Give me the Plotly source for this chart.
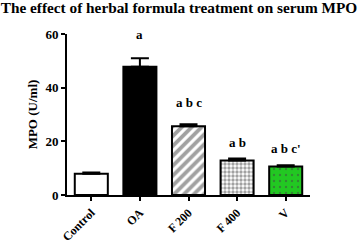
import plotly.graph_objects as go

categories = ["Control", "OA", "F 200", "F 400", "V"]
values = [7.9, 47.8, 25.6, 12.9, 10.6]
errors = [0.5, 3.2, 0.8, 0.7, 0.5]
sig_labels = ["", "a", "a b c", "a b", "a b c'"]
sig_shift = [0, 24, 22, 16, 17]

fills = ["white", "black", "white", "white", "#22c822"]
shapes = ["", "", "/", ".", "."]
fgcolors = ["black", "black", "black", "black", "#0f6f0f"]

font = "Liberation Serif"

fig = go.Figure()
fig.add_trace(go.Bar(
    x=categories, y=values,
    marker=dict(
        color=fills,
        line=dict(color="black", width=2),
        pattern=dict(shape=shapes, fgcolor=fgcolors, bgcolor=fills, size=[8, 8, 7, 4, 6],
                     solidity=[0.3, 0.3, 0.55, 0.55, 0.12], fillmode="overlay"),
    ),
    error_y=dict(type="data", symmetric=False, array=errors,
                 arrayminus=[0] * len(errors), color="black", thickness=2, width=9),
    width=0.68,
    showlegend=False,
))

for c, v, e, s, sh in zip(categories, values, errors, sig_labels, sig_shift):
    if s:
        fig.add_annotation(x=c, y=v + e, text="<b>" + s + "</b>", showarrow=False,
                           yshift=sh, font=dict(family=font, size=13, color="black"))

fig.update_layout(
    width=358, height=244,
    margin=dict(l=67, r=48, t=34, b=49, autoexpand=False),
    paper_bgcolor="white", plot_bgcolor="white",
    title=dict(text="<b>The effect of herbal formula treatment on serum MPO</b>",
               x=0.5, xanchor="center", y=0.99, yanchor="top",
               font=dict(family=font, size=15.3, color="black")),
    font=dict(family=font, color="black"),
)
fig.update_xaxes(showline=True, linecolor="black", linewidth=2, ticks="outside",
                 tickcolor="black", ticklen=4, tickwidth=2, tickangle=-45,
                 tickfont=dict(family=font, size=12, color="black"),
                 range=[-0.5, 4.5], automargin=False,
                 tickvals=categories, ticktext=["<b>" + c + "</b>" for c in categories])
fig.update_yaxes(showline=True, linecolor="black", linewidth=2, ticks="outside",
                 tickcolor="black", ticklen=4, tickwidth=2, range=[0, 60],
                 tickvals=[0, 20, 40, 60], ticktext=["<b>0</b>", "<b>20</b>", "<b>40</b>", "<b>60</b>"],
                 showgrid=False, zeroline=False, automargin=False,
                 tickfont=dict(family=font, size=13, color="black"),
                 title=dict(text="<b>MPO (U/ml)</b>", font=dict(family=font, size=13, color="black"),
                            standoff=5))

fig.write_html("out.html", config={"displayModeBar": False},
               post_script="document.body.style.margin='0';")
